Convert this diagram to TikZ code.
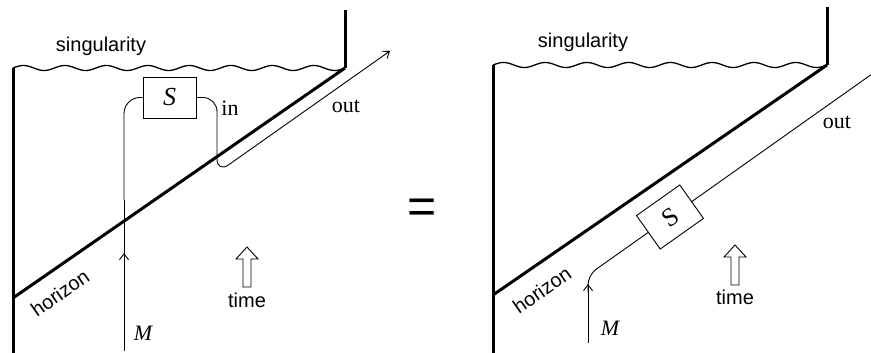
\documentclass[tikz,border=0pt]{standalone}
\usepackage{fontspec}
\setmainfont{Liberation Serif}
\setsansfont{Liberation Sans}
\usetikzlibrary{arrows.meta}
\begin{document}
\begin{tikzpicture}[x=1pt,y=-1pt,
  wall/.style={line width=3pt},
  wire/.style={line width=0.9pt},
  wave/.style={line width=1.3pt},
  sans/.style={font=\sffamily\fontsize{20}{22}\selectfont, inner sep=0pt},
  serif/.style={font=\fontsize{22}{24}\selectfont, inner sep=0pt},
  sbox/.style={draw, line width=0.9pt, minimum width=53pt, minimum height=41pt, inner sep=0pt, font=\fontsize{26}{28}\selectfont},
  tip/.style={-{Straight Barb[length=6pt,width=9pt]}},
  eqsign/.style={font=\sffamily\fontsize{50}{50}\selectfont, inner sep=0pt}]
\useasboundingbox (0,0) rectangle (871,353);

% ---------------- left panel ----------------
\coordinate (Lbl) at (13,353);
\coordinate (Ltl) at (13,68);
\coordinate (Ltr) at (345,68);
\coordinate (Ltop) at (345,10);
\coordinate (Lhz) at (13,298);
\draw[wall] (Lbl) -- (Ltl);
\draw[wall] (Ltr) -- (Ltop);
\draw[wall] (Lhz) -- (Ltr);
\draw[wave] plot[domain=0:8,samples=200] ({13+41.5*\x},{68-2.5*sin(\x*360)});

\node[sbox] (LS) at (169.5,97.5) {\itshape S};
\coordinate (LMb) at (124,351);
\coordinate (LMa) at (124,253);
\coordinate (LMc) at (124,97.5);
\coordinate (Lin1) at (217,97.5);
\coordinate (Lin2) at (217,173);
\coordinate (Lout) at (390,51);
\draw[wire] (LMb) -- (124,200);
\draw[wire, rounded corners=16pt] (124,200) -- (LMc) -- (LS.west);
\draw[wire, tip] (LMb) -- (LMa);
\draw[wire, rounded corners=14pt, tip] (LS.east) -- (Lin1) -- (Lin2) -- (Lout);

\node[sans] (Lsing) at (101,46) {singularity};
\node[serif] (Lin) at (230,108) {in};
\node[serif] (Lo) at (346,106) {out};
\node[sans, rotate=35] (Lhor) at (60,293) {horizon};
\node[serif] (LM) at (143,333) {\itshape M};
\draw[wire] (243,287) -- (243,259) -- (236,259) -- (247,247) -- (258,259) -- (251,259) -- (251,287) -- cycle;
\node[sans] (Ltime) at (247,300) {time};

\node[eqsign] (eq) at (422,211) {=};

% ---------------- right panel ----------------
\coordinate (Rbl) at (493,353);
\coordinate (Rtl) at (493,65);
\coordinate (Rtr) at (827,65);
\coordinate (Rtop) at (827,7);
\coordinate (Rhz) at (493,295);
\draw[wall] (Rbl) -- (Rtl);
\draw[wall] (Rtr) -- (Rtop);
\draw[wall] (Rhz) -- (Rtr);
\draw[wave] plot[domain=0:8,samples=200] ({493+41.75*\x},{65-2.5*sin(\x*360)});

\node[sbox, rotate=35.3] (RS) at (670,217) {S};
\coordinate (RMb) at (588,343);
\coordinate (RMa) at (588,284);
\coordinate (RMc) at (588,275);
\coordinate (Rout) at (871,74.7);
\draw[wire, tip] (RMb) -- (RMa);
\draw[wire, rounded corners=10pt] (588,292) -- (RMc) -- (RS.west);
\draw[wire] (RS.east) -- (Rout);

\node[sans] (Rsing) at (583,42) {singularity};
\node[serif] (Ro) at (837,122) {out};
\node[sans, rotate=35] (Rhor) at (542,290) {horizon};
\node[serif] (RM) at (610,328) {\itshape M};
\draw[wire] (731,285) -- (731,257) -- (724,257) -- (735,245) -- (746,257) -- (739,257) -- (739,285) -- cycle;
\node[sans] (Rtime) at (735,297) {time};
\end{tikzpicture}
\end{document}
